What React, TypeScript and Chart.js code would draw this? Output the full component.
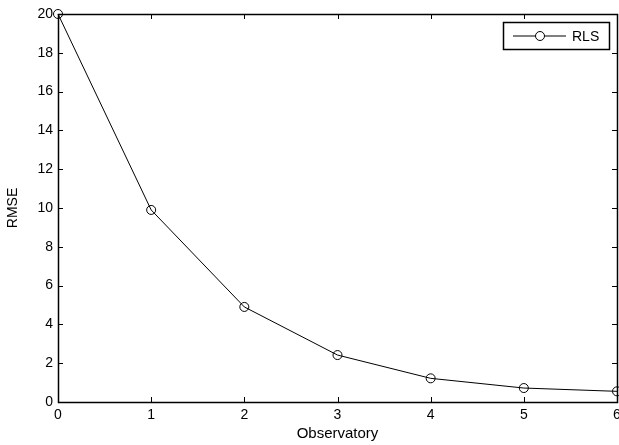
import React, { useEffect, useRef } from "react";
import { Chart, registerables } from "chart.js";

Chart.register(...registerables);

const observatory = [0, 1, 2, 3, 4, 5, 6];
const rmse = [20, 9.9, 4.9, 2.42, 1.22, 0.72, 0.55];
const seriesLabel = "RLS";
const xTitle = "Observatory";
const yTitle = "RMSE";

const FONT = "'Liberation Sans', Arial, sans-serif";

const boxPlugin = {
  id: "matlabBox",
  afterDraw(chart: any) {
    const { ctx, chartArea, scales } = chart;
    const { left, right, top, bottom } = chartArea;
    const xs = scales.x;
    const ys = scales.y;
    ctx.save();
    ctx.strokeStyle = "#000";
    ctx.lineWidth = 1.5;
    ctx.beginPath();
    ctx.rect(left + 0.5, top + 0.5, right - left, bottom - top);
    ctx.stroke();
    ctx.lineWidth = 1;
    const tl = 5;
    ctx.beginPath();
    xs.ticks.forEach((t: any) => {
      const px = Math.round(xs.getPixelForValue(t.value)) + 0.5;
      ctx.moveTo(px, bottom);
      ctx.lineTo(px, bottom - tl);
      ctx.moveTo(px, top);
      ctx.lineTo(px, top + tl);
    });
    ys.ticks.forEach((t: any) => {
      const py = Math.round(ys.getPixelForValue(t.value)) + 0.5;
      ctx.moveTo(left, py);
      ctx.lineTo(left + tl, py);
      ctx.moveTo(right, py);
      ctx.lineTo(right - tl, py);
    });
    ctx.stroke();

    // legend
    const lx = 503, ly = 22, lw = 106, lh = 27;
    ctx.fillStyle = "#fff";
    ctx.fillRect(lx, ly, lw, lh);
    ctx.lineWidth = 1.5;
    ctx.strokeRect(lx + 0.5, ly + 0.5, lw, lh);
    ctx.lineWidth = 1;
    const cy = ly + lh / 2 + 0.5;
    ctx.beginPath();
    ctx.moveTo(lx + 10, cy);
    ctx.lineTo(lx + 63, cy);
    ctx.stroke();
    ctx.fillStyle = "#fff";
    ctx.beginPath();
    ctx.arc(lx + 37, cy, 4.5, 0, Math.PI * 2);
    ctx.fill();
    ctx.stroke();
    ctx.fillStyle = "#000";
    ctx.font = `14px ${FONT}`;
    ctx.textBaseline = "middle";
    ctx.textAlign = "left";
    ctx.fillText(chart.data.datasets[0].label, lx + 69, cy + 1);
    ctx.restore();
  },
};

export default function App() {
  const ref = useRef<HTMLCanvasElement>(null);
  useEffect(() => {
    if (!ref.current) return;
    const chart = new Chart(ref.current, {
      type: "line",
      data: {
        datasets: [
          {
            label: seriesLabel,
            data: observatory.map((x, i) => ({ x, y: rmse[i] })),
            borderColor: "#000",
            borderWidth: 1,
            pointStyle: "circle",
            pointRadius: 4.5,
            pointBackgroundColor: "rgba(0,0,0,0)",
            pointBorderColor: "#000",
            pointBorderWidth: 1,
            tension: 0,
            clip: false as any,
          },
        ],
      },
      options: {
        animation: false,
        responsive: false,
        maintainAspectRatio: false,
        layout: { autoPadding: false, padding: { left: 0, top: 14, right: 2, bottom: 0 } },
        plugins: { legend: { display: false }, tooltip: { enabled: false } },
        scales: {
          x: {
            type: "linear",
            min: 0,
            max: 6,
            border: { display: false },
            grid: { display: false, drawTicks: false },
            ticks: {
              stepSize: 1,
              color: "#000",
              font: { family: FONT, size: 14 },
              padding: 5,
              maxRotation: 0,
            },
            title: {
              display: true,
              text: xTitle,
              color: "#000",
              font: { family: FONT, size: 15 },
              padding: { top: 0, bottom: 2 },
            },
            afterFit: (s: any) => {
              s.height = 43;
              s.paddingLeft = 0;
              s.paddingRight = 0;
            },
          },
          y: {
            type: "linear",
            min: 0,
            max: 20,
            border: { display: false },
            grid: { display: false, drawTicks: false },
            ticks: {
              stepSize: 2,
              color: "#000",
              font: { family: FONT, size: 14 },
              padding: 5,
            },
            title: {
              display: true,
              text: yTitle,
              color: "#000",
              font: { family: FONT, size: 14 },
              padding: { top: 5, bottom: 0 },
            },
            afterFit: (s: any) => {
              s.width = 58;
              s.paddingTop = 0;
              s.paddingBottom = 0;
            },
          },
        },
      },
      plugins: [boxPlugin],
    });
    return () => chart.destroy();
  }, []);
  return (
    <div style={{ position: "fixed", left: 0, top: 0, width: 619, height: 445, background: "#fff" }}>
      <canvas ref={ref} width={619} height={445} style={{ width: 619, height: 445 }} />
    </div>
  );
}
